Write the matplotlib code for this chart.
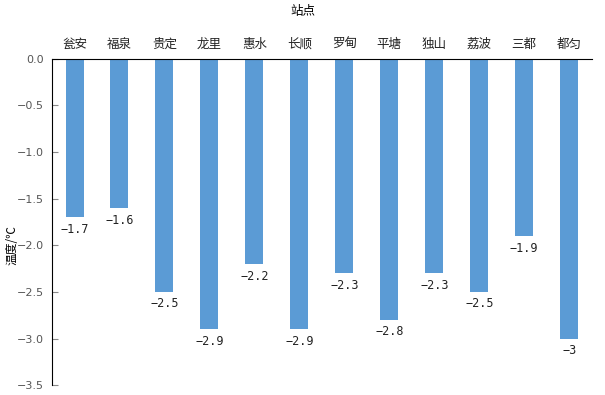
import matplotlib.pyplot as plt
import numpy as np

plt.rcParams['font.family'] = ['Noto Sans CJK SC', 'DejaVu Sans']

# data
stations = ["瓮安", "福泉", "贵定", "龙里", "惠水", "长顺", "罗甸", "平塘", "独山", "荔波", "三都", "都匀"]
temps = [-1.7, -1.6, -2.5, -2.9, -2.2, -2.9, -2.3, -2.8, -2.3, -2.5, -1.9, -3.0]
yticks = [0.0, -0.5, -1.0, -1.5, -2.0, -2.5, -3.0, -3.5]

fig = plt.figure(figsize=(6.05, 3.95), dpi=100)
ax = fig.add_axes([0.086, 0.025, 0.892, 0.826])

x = np.arange(len(stations))
ax.bar(x, temps, width=0.4, color='#5b9bd5')

# value labels under each bar
for xi, v in zip(x, temps):
    lbl = f"{v:g}".replace("-", "\u2212")
    ax.text(xi, v - 0.06, lbl, ha='center', va='top', fontsize=8.5,
            family='DejaVu Sans Mono', color='#222222')

ax.set_xlim(-0.5, len(stations) - 0.5)
ax.set_ylim(-3.5, 0)
ax.set_yticks(yticks)
ax.set_yticklabels([f"{t:.1f}".replace("-", "\u2212") for t in yticks],
                   color='#555555', fontsize=8, family='DejaVu Sans')
ax.tick_params(axis='y', direction='in', length=4, color='#888888', pad=6)

ax.xaxis.tick_top()
ax.set_xticks(x)
ax.set_xticklabels(stations, fontsize=9, color='#222222')
ax.tick_params(axis='x', length=0, pad=6)

for s in ['right', 'bottom']:
    ax.spines[s].set_visible(False)
ax.spines['top'].set_color('black')
ax.spines['left'].set_color('black')

fig.text(0.5, 0.97, "站点", ha='center', va='center', fontsize=9)
fig.text(0.02, 0.38, "温度/℃", rotation=90, ha='center', va='center', fontsize=8.5)

fig.savefig("out.png", dpi=100)
